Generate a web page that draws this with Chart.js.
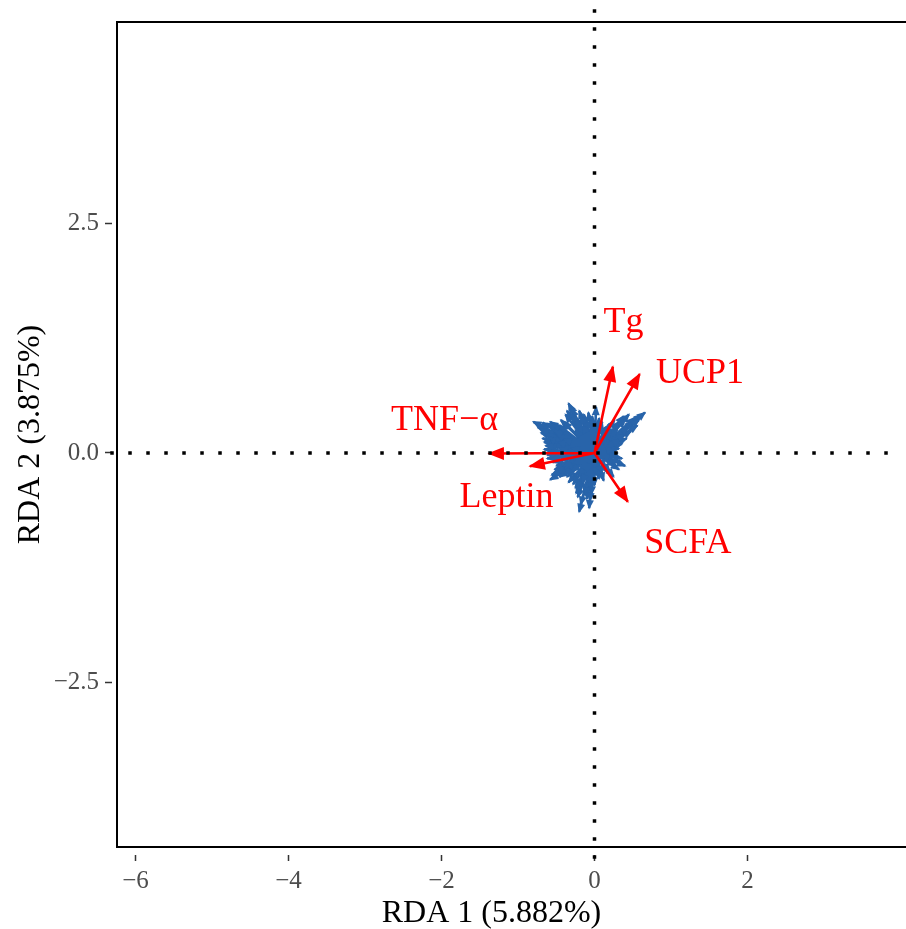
<!DOCTYPE html>
<html>
<head>
<meta charset="utf-8">
<script src="https://cdn.jsdelivr.net/npm/chart.js"></script>
<style>
  body { margin: 0; background: #fff; }
  canvas { display: block; }
</style>
</head>
<body>
<canvas id="rda" width="906" height="929"></canvas>
<script>
// species scores (blue arrows)
var speciesX = [0.30, 0.36, 0.40, 0.32, 0.25, 0.18, 0.12, 0.06, 0.00, -0.04, -0.07, -0.10, -0.14, -0.20, -0.22, -0.25,
  -0.30, -0.36, -0.42, -0.48, -0.58, -0.50, -0.55, -0.62, -0.60, -0.66, -0.60, -0.66, -0.61, -0.70, -0.74, -0.80, -0.68,
  -0.58, -0.50, -0.44, -0.38, -0.34, -0.30, -0.26, -0.20, -0.14, -0.08, -0.03, 0.02, 0.06, 0.10,
  0.14, 0.20, 0.26, 0.32, 0.38, 0.45, 0.52, 0.60, 0.66, 0.56, 0.48, 0.42, 0.36, 0.32,
  -0.40, -0.45, -0.35, -0.20, -0.25, -0.15, 0.20, 0.24, 0.15, -0.50, -0.30, -0.10, 0.25, -0.55, -0.38, -0.45, -0.28, 0.05,
  -0.72, -0.76, -0.70, -0.64, -0.68, -0.64, -0.58, -0.62, -0.56, -0.52, -0.56, -0.46, -0.40, -0.34, -0.28, -0.24,
  -0.18, -0.12, -0.06, -0.05, 0.02, 0.10, 0.20, 0.28, 0.34, 0.30, 0.26, 0.34, 0.40, 0.44, 0.50, 0.58, 0.62, 0.40,
  0.30, 0.22, 0.16, 0.08, 0.00, -0.06, -0.12, -0.18, -0.24, -0.30, -0.36, -0.32, -0.40, -0.46, -0.54, -0.62, -0.48,
  -0.52, -0.40, -0.30, -0.16];
var speciesY = [0.00, -0.06, -0.14, -0.18, -0.26, -0.22, -0.30, -0.28, -0.35, -0.45, -0.60, -0.50, -0.42, -0.64, -0.48, -0.38,
  -0.30, -0.26, -0.20, -0.22, -0.29, -0.14, -0.10, -0.06, 0.00, 0.04, 0.08, 0.12, 0.16, 0.22, 0.28, 0.34, 0.33,
  0.34, 0.30, 0.36, 0.42, 0.54, 0.48, 0.40, 0.46, 0.42, 0.44, 0.40, 0.50, 0.38, 0.34,
  0.28, 0.32, 0.36, 0.34, 0.40, 0.42, 0.38, 0.40, 0.44, 0.30, 0.24, 0.16, 0.10, 0.05,
  0.15, 0.05, -0.10, -0.25, 0.25, 0.30, 0.15, 0.08, -0.15, 0.20, 0.05, -0.20, 0.22, 0.26, -0.05, -0.08, -0.12, 0.20,
  0.30, 0.32, 0.26, 0.20, 0.16, 0.08, 0.02, -0.02, -0.06, -0.18, -0.24, -0.26, -0.24, -0.32, -0.34, -0.44,
  -0.56, -0.46, -0.52, -0.40, -0.24, -0.22, -0.20, -0.14, -0.10, -0.04, 0.04, 0.14, 0.20, 0.28, 0.34, 0.36, 0.42, 0.36,
  0.26, 0.26, 0.22, 0.30, 0.34, 0.36, 0.38, 0.40, 0.36, 0.42, 0.46, 0.52, 0.34, 0.30, 0.32, 0.32, 0.12,
  0.24, -0.14, -0.20, -0.32];

// environmental variables (red arrows)
var envNames = ['TNF\u2212\u03b1', 'Leptin', 'Tg', 'UCP1', 'SCFA'];
var envX = [-1.38, -0.845, 0.24, 0.59, 0.435];
var envY = [-0.005, -0.145, 0.94, 0.86, -0.53];
var envLabelX = [-1.96, -1.15, 0.38, 1.38, 1.22];
var envLabelY = [0.25, -0.59, 1.32, 0.76, -1.09];

var xTicks = [-6, -4, -2, 0, 2];
var yTicks = [-2.5, 0, 2.5];

var serif = 'Liberation Serif';

function toArrows(xs, ys) {
  var out = [];
  for (var i = 0; i < xs.length; i++) {
    out.push({x: 0, y: 0});
    out.push({x: xs[i], y: ys[i]});
    out.push({x: null, y: null});
  }
  return out;
}

function minus(v, digits) {
  return v.toFixed(digits).replace('-', '\u2212');
}

// arrow heads at the end of every segment
var arrowHeads = {
  id: 'arrowHeads',
  afterDatasetDraw: function (chart, args) {
    var ds = chart.data.datasets[args.index];
    if (!ds.head) return;
    var pts = args.meta.data;
    var ctx = chart.ctx;
    var L = ds.head[0], W = ds.head[1];
    ctx.save();
    ctx.fillStyle = ds.borderColor;
    for (var i = 1; i < pts.length; i += 3) {
      var a = pts[i - 1], b = pts[i];
      var ang = Math.atan2(b.y - a.y, b.x - a.x);
      var c = Math.cos(ang), s = Math.sin(ang);
      ctx.beginPath();
      ctx.moveTo(b.x + c * 1.5, b.y + s * 1.5);
      ctx.lineTo(b.x - L * c + W * s, b.y - L * s - W * c);
      ctx.lineTo(b.x - L * c - W * s, b.y - L * s + W * c);
      ctx.closePath();
      ctx.fill();
    }
    ctx.restore();
  }
};

// red labels + top border
var extras = {
  id: 'extras',
  afterDatasetsDraw: function (chart) {
    var ctx = chart.ctx, xs = chart.scales.x, ys = chart.scales.y;
    ctx.save();
    ctx.fillStyle = '#FF0000';
    ctx.font = '36px "' + serif + '"';
    ctx.textAlign = 'center';
    ctx.textBaseline = 'alphabetic';
    for (var i = 0; i < envNames.length; i++) {
      ctx.fillText(envNames[i], xs.getPixelForValue(envLabelX[i]), ys.getPixelForValue(envLabelY[i]));
    }
    var a = chart.chartArea;
    ctx.strokeStyle = '#000';
    ctx.lineWidth = 2;
    ctx.beginPath();
    ctx.moveTo(a.left - 1, a.top);
    ctx.lineTo(a.right, a.top);
    ctx.stroke();
    ctx.restore();
  }
};

new Chart('rda', {
  type: 'scatter',
  data: {
    datasets: [{
      label: 'zero x',
      data: [{x: -6.33, y: 0}, {x: 3.85, y: 0}],
      showLine: true,
      borderColor: '#000',
      borderWidth: 3.5,
      borderDash: [3.5, 14.5],
      pointRadius: 0,
      clip: false,
      order: 0
    }, {
      label: 'zero y',
      data: [{x: 0, y: -4.42}, {x: 0, y: 4.84}],
      showLine: true,
      borderColor: '#000',
      borderWidth: 3.5,
      borderDash: [3.5, 14.5],
      pointRadius: 0,
      clip: false,
      order: 0
    }, {
      label: 'env',
      data: toArrows(envX, envY),
      showLine: true,
      borderColor: '#FF0000',
      borderWidth: 2.6,
      pointRadius: 0,
      head: [15, 6.5],
      order: 1
    }, {
      label: 'species',
      data: toArrows(speciesX, speciesY),
      showLine: true,
      borderColor: '#2864AA',
      borderWidth: 2.6,
      pointRadius: 0,
      head: [8, 4],
      order: 2
    }]
  },
  options: {
    responsive: false,
    animation: false,
    layout: {padding: {top: 22, left: 0, right: 0, bottom: 0}},
    plugins: {legend: {display: false}, tooltip: {enabled: false}},
    scales: {
      x: {
        type: 'linear',
        min: -6.242,
        max: 4.072,
        afterBuildTicks: function (s) { s.ticks = xTicks.map(function (v) { return {value: v}; }); },
        afterFit: function (s) { s.height = 82; },
        border: {display: true, color: '#000', width: 2},
        grid: {drawOnChartArea: false, drawTicks: true, tickLength: 14, tickColor: '#333', tickWidth: 1.5, tickBorderDash: [0, 7, 7, 100]},
        ticks: {color: '#4D4D4D', font: {family: serif, size: 25}, padding: 5, maxRotation: 0,
          callback: function (v) { return minus(v, 0); }},
        title: {display: true, text: 'RDA 1 (5.882%)\u00a0\u00a0\u00a0\u00a0\u00a0', color: '#000',
          font: {family: serif, size: 32}, padding: {top: 0, bottom: -4}}
      },
      y: {
        type: 'linear',
        min: -4.292,
        max: 4.695,
        afterBuildTicks: function (s) { s.ticks = yTicks.map(function (v) { return {value: v}; }); },
        afterFit: function (s) { s.width = 117; },
        border: {display: true, color: '#000', width: 2},
        grid: {drawOnChartArea: false, drawTicks: true, tickLength: 12, tickColor: '#333', tickWidth: 1.5, tickBorderDash: [7, 100]},
        ticks: {color: '#4D4D4D', font: {family: serif, size: 25}, padding: 6,
          callback: function (v) { return minus(v, 1); }},
        title: {display: true, text: 'RDA 2 (3.875%)', color: '#000',
          font: {family: serif, size: 32}, padding: {top: 11, bottom: 0}}
      }
    }
  },
  plugins: [arrowHeads, extras]
});
</script>
</body>
</html>
